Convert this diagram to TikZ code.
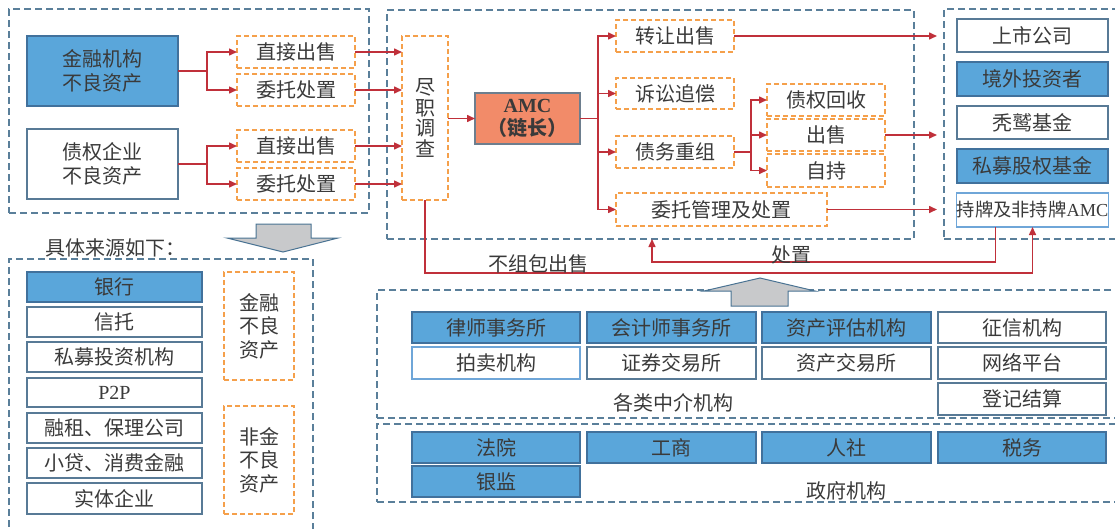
\documentclass[tikz,border=0pt]{standalone}
\usepackage{fontspec}
\setmainfont{Liberation Serif}
\newfontfamily\cjk{Noto Sans CJK SC}
\usetikzlibrary{arrows.meta}
\definecolor{txt}{HTML}{3A3A3A}
\definecolor{grpc}{HTML}{5A7F9A}
\definecolor{bfill}{HTML}{5AA6DA}
\definecolor{bbord}{HTML}{41719C}
\definecolor{wbord}{HTML}{587A96}
\definecolor{lbord}{HTML}{6FA6D8}
\definecolor{oc}{HTML}{F5A04B}
\definecolor{redc}{HTML}{C0303A}
\definecolor{garf}{HTML}{C8C9CB}
\definecolor{garb}{HTML}{4A7393}
\definecolor{amcf}{HTML}{F28B69}
\definecolor{amcb}{HTML}{6D7E8E}
\tikzset{
 every node/.style={font=\cjk\fontsize{20}{23.5}\selectfont, text=txt, inner sep=0pt, outer sep=0pt, align=center},
 grp/.style={draw=grpc, line width=1.1pt, dash pattern=on 7pt off 4pt},
 bluebox/.style={draw=bbord, fill=bfill, line width=1.2pt},
 whitebox/.style={draw=wbord, fill=white, line width=1.2pt},
 lwhitebox/.style={draw=lbord, fill=white, line width=1.2pt},
 obox/.style={draw=oc, line width=1.3pt, dash pattern=on 5pt off 3pt, fill=white},
 amcbox/.style={draw=amcb, fill=amcf, line width=1.2pt},
 arr/.style={draw=redc, line width=1.5pt, -{Triangle[length=8pt,width=7pt]}},
 bigarrow/.style={draw=garb, fill=garf, line width=1pt},
}
\newcommand\bx[7]{\node[#6, minimum width={(#4-#2)*1pt}, minimum height={(#5-#3)*1pt}] (#1) at ({(#2+#4)/2},{(#3+#5)/2}) {#7};}
\begin{document}
\begin{tikzpicture}[x=1pt,y=-1pt]
\useasboundingbox (0,0) rectangle (1115,528);
% ---------- top-left group
\bx{grpTL}{9}{9}{369}{213}{grp}{}
\bx{jr}{27}{36}{178}{106}{bluebox}{金融机构\\不良资产}
\bx{zq}{27}{129}{178}{199}{whitebox}{债权企业\\不良资产}
\bx{zsa}{237}{36}{355}{68}{obox}{直接出售}
\bx{wta}{237}{74}{355}{106}{obox}{委托处置}
\bx{zsb}{237}{130}{355}{162}{obox}{直接出售}
\bx{wtb}{237}{168}{355}{200}{obox}{委托处置}
\draw[arr] (jr.east) -- ++(29,0) |- (zsa.west);
\draw[arr] (jr.east) -- ++(29,0) |- (wta.west);
\draw[arr] (zq.east) -- ++(29,0) |- (zsb.west);
\draw[arr] (zq.east) -- ++(29,0) |- (wtb.west);
% down arrow
\draw[bigarrow] (256,224) -- (311,224) -- (311,238) -- (338,238) -- (283,252) -- (227,238) -- (256,238) -- cycle;
\node[anchor=west] (src) at (45,248) {具体来源如下：};
% ---------- bottom-left group
\bx{grpBL}{9}{259}{313}{545}{grp}{}
\bx{la}{27}{272}{202}{302}{bluebox}{银行}
\bx{lb}{27}{307}{202}{337}{whitebox}{信托}
\bx{lc}{27}{342}{202}{372}{whitebox}{私募投资机构}
\bx{ld}{27}{378}{202}{407}{whitebox}{{\rmfamily P2P}}
\bx{le}{27}{413}{202}{443}{whitebox}{融租、保理公司}
\bx{lf}{27}{448}{202}{478}{whitebox}{小贷、消费金融}
\bx{lg}{27}{483}{202}{514}{whitebox}{实体企业}
\bx{fa}{224}{272}{294}{380}{obox}{金融\\不良\\资产}
\bx{fb}{224}{406}{294}{514}{obox}{非金\\不良\\资产}
% ---------- middle group
\bx{grpM}{387}{10}{914}{239}{grp}{}
\node[obox, minimum width=46pt, minimum height=164pt, font=\cjk\fontsize{20}{20.5}\selectfont] (jd) at (425,118) {尽\\职\\调\\查};
\bx{amc}{475}{93}{580}{144}{amcbox}{{\rmfamily\bfseries AMC}\\{\bfseries （链长）}}
\bx{zr}{616}{20}{734}{52}{obox}{转让出售}
\bx{ss}{616}{78}{734}{109}{obox}{诉讼追偿}
\bx{zw}{616}{136}{734}{168}{obox}{债务重组}
\bx{wg}{616}{193}{827}{226}{obox}{委托管理及处置}
\bx{zh}{767}{84}{885}{116}{obox}{债权回收}
\bx{cs}{767}{119}{885}{151}{obox}{出售}
\bx{zc}{767}{154}{885}{187}{obox}{自持}
\draw[arr] (zsa.east) -- (jd.west |- zsa.east);
\draw[arr] (wta.east) -- (jd.west |- wta.east);
\draw[arr] (zsb.east) -- (jd.west |- zsb.east);
\draw[arr] (wtb.east) -- (jd.west |- wtb.east);
\draw[arr] (jd.east |- amc.west) -- (amc.west);
\draw[arr] (amc.east) -- ++(18,0) |- (zr.west);
\draw[arr] (amc.east) -- ++(18,0) |- (ss.west);
\draw[arr] (amc.east) -- ++(18,0) |- (zw.west);
\draw[arr] (amc.east) -- ++(18,0) |- (wg.west);
\draw[arr] (zw.east) -- ++(17,0) |- (zh.west);
\draw[arr] (zw.east) -- ++(17,0) |- (cs.west);
\draw[arr] (zw.east) -- ++(17,0) |- (zc.west);
% ---------- right group
\bx{grpR}{944}{9}{1120}{239}{grp}{}
\bx{ra}{957}{19}{1108}{52}{whitebox}{上市公司}
\bx{rb}{957}{62}{1108}{96}{bluebox}{境外投资者}
\bx{rc}{957}{106}{1108}{139}{whitebox}{秃鹫基金}
\bx{rd}{957}{149}{1108}{183}{bluebox}{私募股权基金}
\node[lwhitebox, minimum width=151pt, minimum height=34pt, font=\cjk\fontsize{18.3}{20}\selectfont] (cp) at (1032.5,210) {持牌及非持牌{\rmfamily AMC}};
\coordinate (tipx) at (937,0);
\draw[arr] (zr.east) -- (tipx |- zr.east);
\draw[arr] (cs.east) -- (tipx |- cs.east);
\draw[arr] (wg.east) -- (tipx |- wg.east);
% bottom connectors
\draw[arr] (jd.south) -- ++(0,73) -| (cp.south);
\coordinate (mb) at (652,239);
\draw[arr] ([xshift=-37pt]cp.south) -- ++(0,35) -| (mb);
\node (bzb) at (538,264) {不组包出售};
\node (czl) at (791,255) {处置};
% ---------- intermediaries
\bx{grpZ}{377}{290}{1120}{418}{grp}{}
\bx{grpG}{377}{424}{1120}{502}{grp}{}
\bx{ia}{412}{312}{580}{343}{bluebox}{律师事务所}
\bx{ib}{587}{312}{756}{343}{bluebox}{会计师事务所}
\bx{ic}{762}{312}{931}{343}{bluebox}{资产评估机构}
\bx{id}{938}{312}{1106}{343}{whitebox}{征信机构}
\bx{ie}{412}{347}{580}{379}{lwhitebox}{拍卖机构}
\bx{if}{587}{347}{756}{379}{whitebox}{证券交易所}
\bx{ig}{762}{347}{931}{379}{whitebox}{资产交易所}
\bx{ih}{938}{347}{1106}{379}{whitebox}{网络平台}
\bx{ii}{938}{383}{1106}{415}{whitebox}{登记结算}
\node (zjl) at (673,403) {各类中介机构};
\bx{ga}{412}{432}{580}{463}{bluebox}{法院}
\bx{gb}{587}{432}{756}{463}{bluebox}{工商}
\bx{gc}{762}{432}{931}{463}{bluebox}{人社}
\bx{gd}{938}{432}{1106}{463}{bluebox}{税务}
\bx{ge}{412}{466}{580}{497}{bluebox}{银监}
\node (zfl) at (846,491) {政府机构};
% up arrow
\draw[bigarrow] (731,306) -- (788,306) -- (788,291) -- (815,291) -- (760,278) -- (704,291) -- (731,291) -- cycle;
\end{tikzpicture}
\end{document}
